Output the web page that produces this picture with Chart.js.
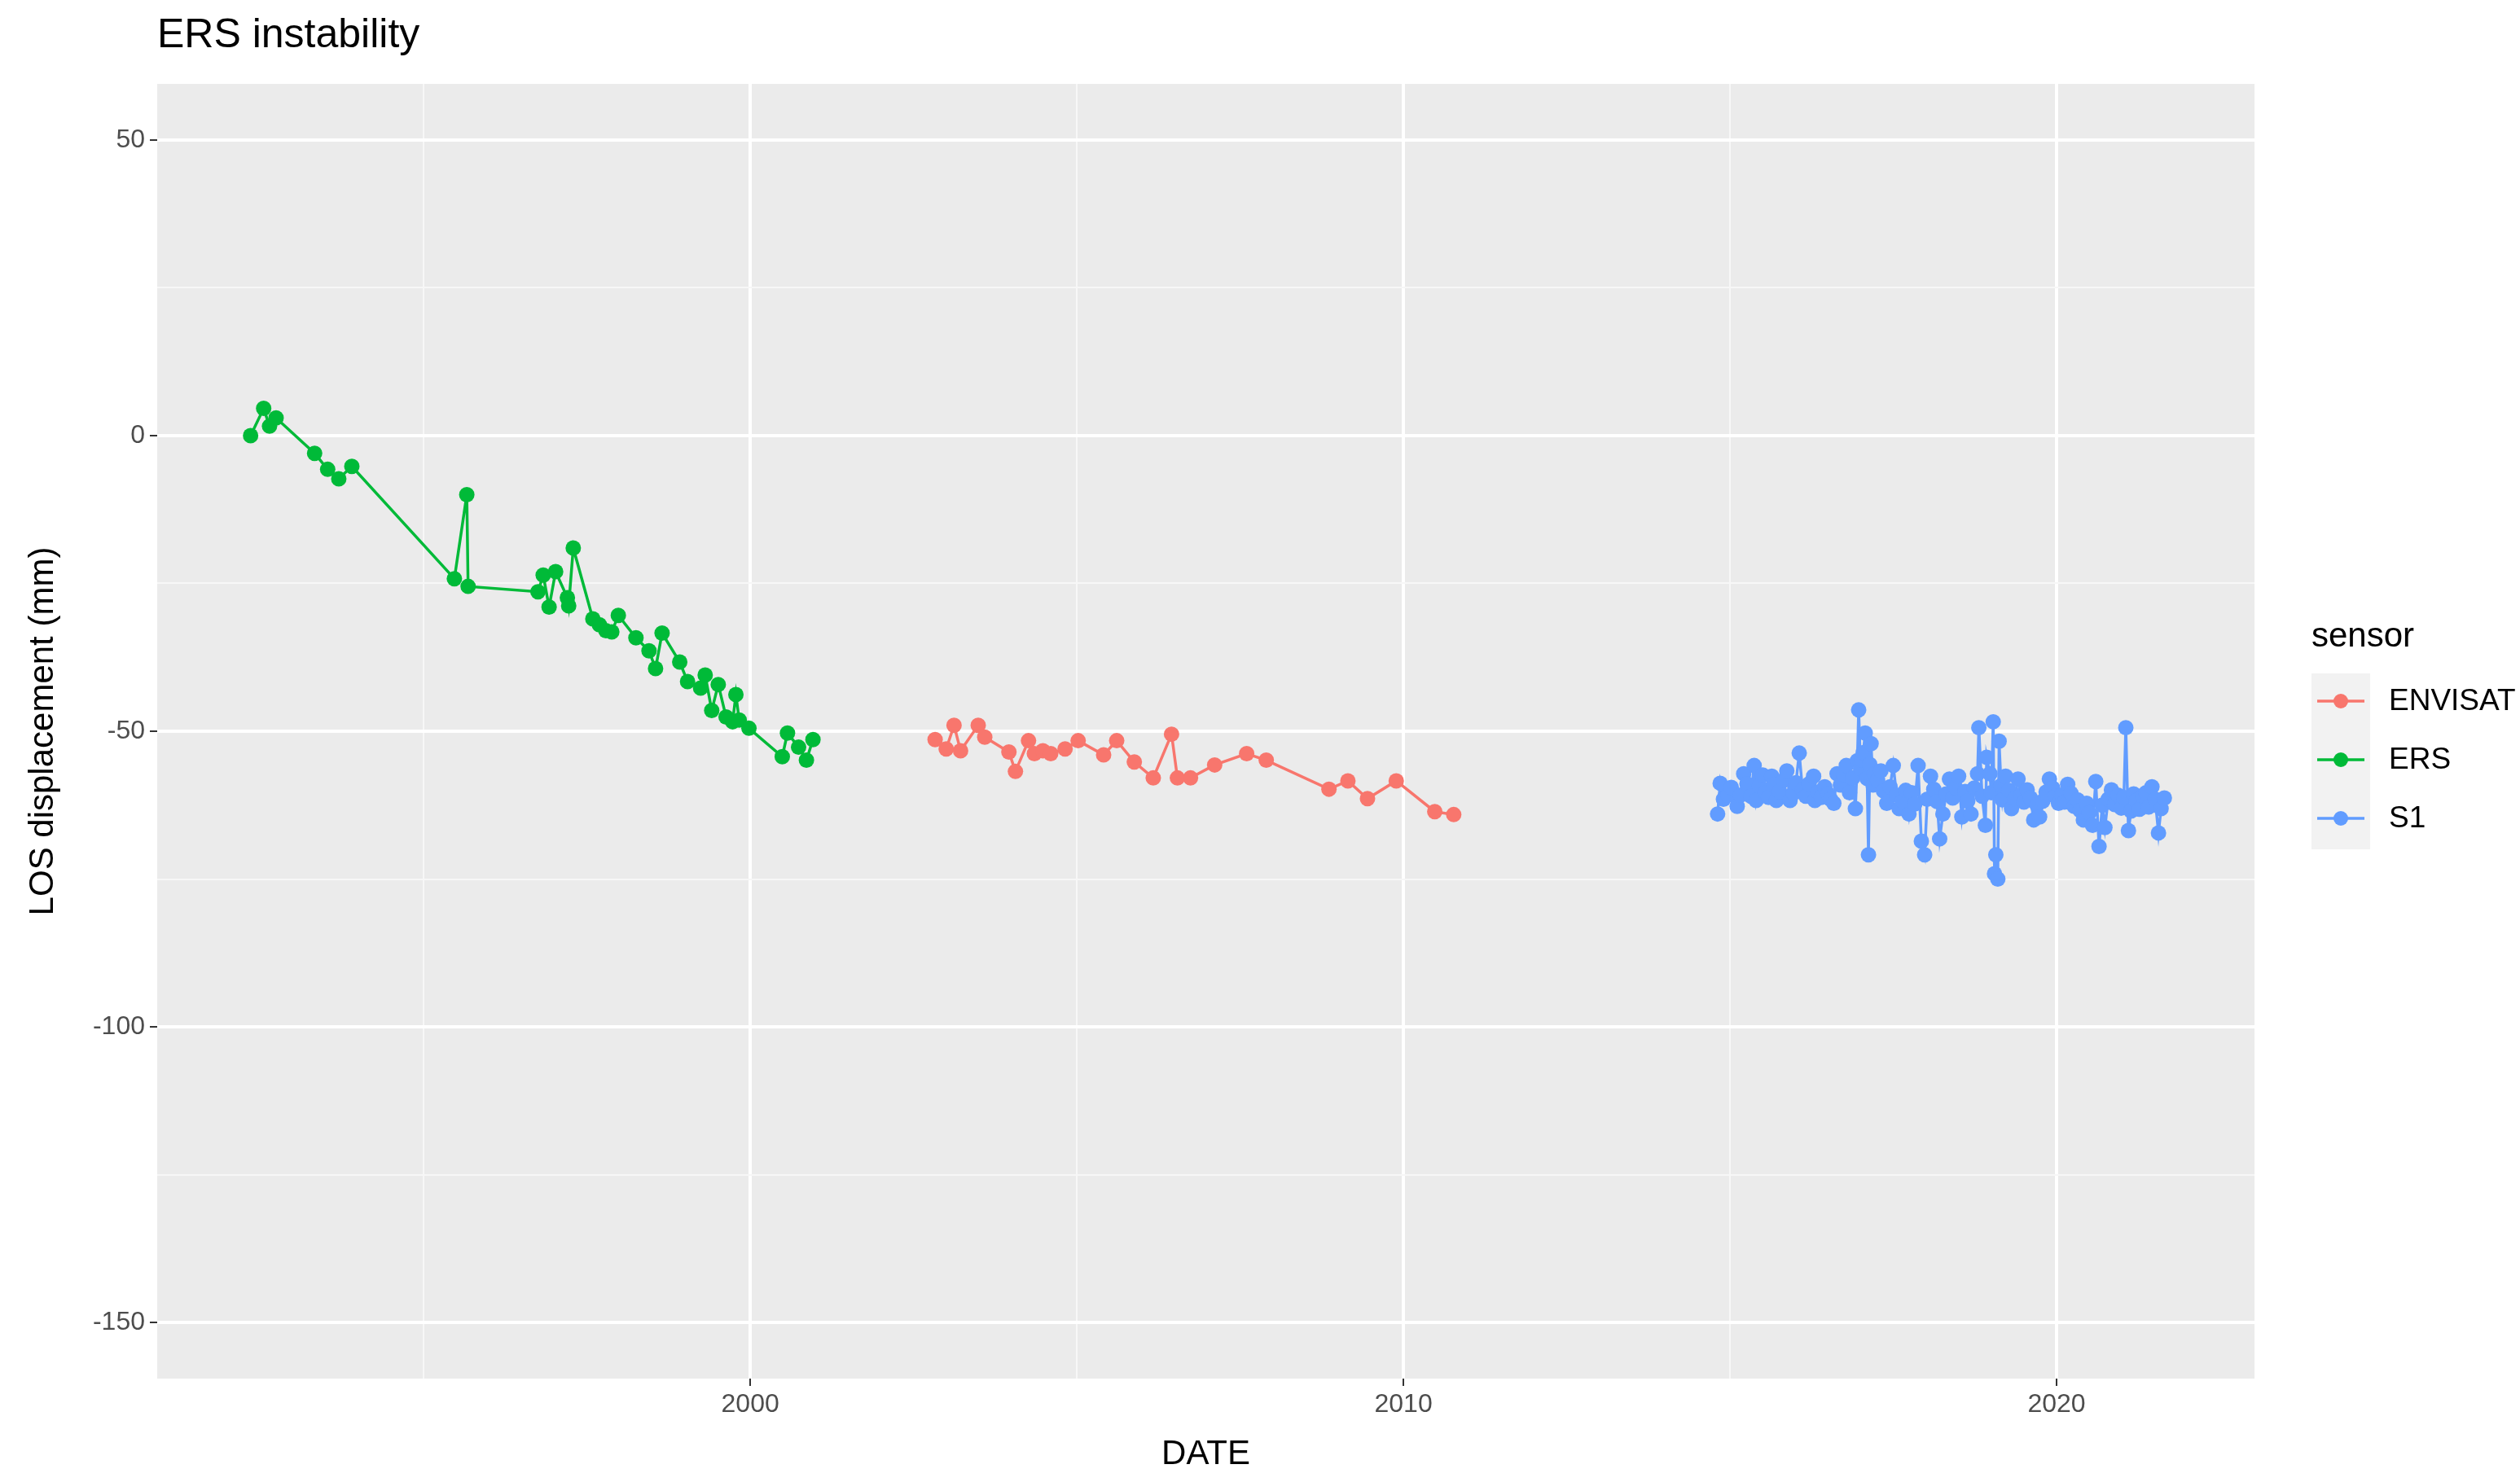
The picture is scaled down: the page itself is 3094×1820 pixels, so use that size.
<!DOCTYPE html>
<html><head><meta charset="utf-8">
<script src="https://cdn.jsdelivr.net/npm/chart.js@4/dist/chart.umd.min.js"></script>
<style>html,body{margin:0;padding:0;background:#fff}#c{display:block}</style>
</head><body>
<canvas id="c" width="3094" height="1820"></canvas>
<script>
const chartTitle = "ERS instability";
const xTitle = "DATE";
const yTitle = "LOS displacement (mm)";
const legendTitle = "sensor";
const sensors = ["ENVISAT", "ERS", "S1"];
const colors = ["#F8766D", "#00BA38", "#619CFF"];
const xTicks = [2000, 2010, 2020];
const yTicks = [-150, -100, -50, 0, 50];

const ersDates = [1992.35,1992.55,1992.64,1992.74,1993.33,1993.53,1993.70,1993.90,1995.47,1995.66,1995.68,1996.75,1996.83,1996.92,1997.02,1997.20,1997.22,1997.29,1997.59,1997.69,1997.79,1997.88,1997.98,1998.25,1998.45,1998.55,1998.65,1998.92,1999.04,1999.24,1999.31,1999.41,1999.51,1999.63,1999.73,1999.78,1999.83,1999.98,2000.49,2000.57,2000.74,2000.86,2000.96];
const ersValues = [0,4.6,1.6,3.0,-3.0,-5.7,-7.3,-5.2,-24.2,-10.0,-25.5,-26.4,-23.6,-29.0,-23.0,-27.4,-28.8,-19.0,-31.0,-32.0,-33.0,-33.2,-30.4,-34.2,-36.4,-39.4,-33.4,-38.3,-41.6,-42.7,-40.5,-46.5,-42.1,-47.6,-48.4,-43.8,-48.1,-49.5,-54.3,-50.3,-52.7,-54.9,-51.4];

const envDates = [2002.83,2003.00,2003.12,2003.22,2003.49,2003.59,2003.96,2004.06,2004.26,2004.35,2004.48,2004.60,2004.82,2005.02,2005.41,2005.61,2005.88,2006.17,2006.45,2006.54,2006.74,2007.11,2007.60,2007.90,2008.86,2009.15,2009.45,2009.89,2010.48,2010.77];
const envValues = [-51.4,-53,-49,-53.3,-49,-51,-53.5,-56.8,-51.6,-53.8,-53.3,-53.8,-53,-51.6,-54,-51.6,-55.2,-57.9,-50.5,-57.9,-57.9,-55.7,-53.8,-54.9,-59.8,-58.4,-61.4,-58.4,-63.6,-64.1];

const s1Dates = [2014.81,2014.85,2014.90,2014.97,2015.02,2015.11,2015.16,2015.21,2015.26,2015.32,2015.37,2015.40,2015.45,2015.50,2015.54,2015.59,2015.64,2015.67,2015.71,2015.76,2015.82,2015.87,2015.92,2015.97,2016.01,2016.06,2016.11,2016.16,2016.21,2016.28,2016.30,2016.35,2016.40,2016.45,2016.50,2016.54,2016.59,2016.64,2016.69,2016.74,2016.78,2016.83,2016.88,2016.92,2016.95,2016.97,2017.00,2017.02,2017.04,2017.07,2017.10,2017.12,2017.14,2017.16,2017.19,2017.21,2017.26,2017.31,2017.35,2017.40,2017.45,2017.50,2017.55,2017.59,2017.64,2017.69,2017.74,2017.78,2017.83,2017.88,2017.93,2017.98,2018.02,2018.07,2018.12,2018.17,2018.21,2018.26,2018.31,2018.36,2018.41,2018.45,2018.50,2018.55,2018.60,2018.64,2018.69,2018.74,2018.79,2018.81,2018.86,2018.91,2018.93,2018.98,2019.00,2019.03,2019.05,2019.07,2019.10,2019.12,2019.15,2019.17,2019.22,2019.27,2019.31,2019.36,2019.41,2019.46,2019.50,2019.55,2019.60,2019.65,2019.70,2019.74,2019.79,2019.84,2019.89,2019.94,2019.98,2020.03,2020.08,2020.12,2020.17,2020.22,2020.27,2020.32,2020.36,2020.41,2020.46,2020.50,2020.55,2020.60,2020.65,2020.70,2020.74,2020.79,2020.84,2020.89,2020.94,2020.99,2021.03,2021.06,2021.10,2021.14,2021.18,2021.22,2021.27,2021.32,2021.37,2021.41,2021.46,2021.51,2021.56,2021.60,2021.65];
const s1Values = [-64.0,-58.8,-61.5,-60.8,-59.5,-62.7,-60.8,-57.2,-58.9,-61.0,-55.8,-61.7,-59.2,-57.4,-60.4,-61.2,-57.6,-59.0,-61.7,-60.2,-58.3,-56.7,-61.7,-60.5,-58.7,-53.7,-59.9,-61.0,-58.9,-57.6,-61.7,-60.3,-61.2,-59.4,-60.6,-61.5,-62.2,-57.2,-59.1,-57.3,-55.8,-60.4,-57.9,-63.1,-55.0,-46.4,-56.3,-54.9,-53.6,-50.3,-58.0,-70.9,-55.6,-52.1,-59.1,-57.2,-58.3,-56.7,-60.1,-62.2,-59.4,-55.8,-60.8,-63.1,-61.8,-60.0,-64.0,-60.4,-62.3,-55.8,-68.6,-70.9,-61.5,-57.6,-59.8,-61.9,-68.2,-64.0,-60.6,-58.1,-61.3,-59.5,-57.6,-64.5,-60.2,-61.8,-64.0,-59.6,-57.2,-49.4,-61.0,-65.9,-54.4,-57.2,-60.4,-48.4,-74.1,-70.9,-75.0,-51.7,-59.2,-61.6,-57.6,-60.0,-63.1,-61.4,-58.1,-60.7,-62.0,-59.9,-61.3,-65.0,-62.5,-64.5,-61.8,-60.3,-58.1,-59.6,-61.0,-62.2,-60.8,-62.0,-59.0,-60.5,-62.7,-61.6,-63.4,-65.0,-62.2,-63.8,-65.9,-58.5,-69.5,-62.5,-66.3,-61.5,-59.9,-62.4,-60.8,-63.0,-61.2,-49.4,-66.8,-63.5,-60.6,-61.7,-63.2,-61.0,-60.4,-62.8,-59.4,-61.5,-67.2,-63.1,-61.3];

const FONT = "'Liberation Sans', Arial, sans-serif";
function pts(d, v) { return d.map((x, i) => ({x: x, y: v[i]})); }
function ds(label, d, v, col) {
  return {label, data: pts(d, v), borderColor: col, backgroundColor: col, pointBackgroundColor: col,
    pointBorderWidth: 0, pointRadius: 9.5, pointHoverRadius: 9.5, borderWidth: 3.5, showLine: true, tension: 0};
}
const isMajX = v => xTicks.includes(v);
const isMajY = v => yTicks.includes(v);

const deco = {
  id: 'deco',
  beforeDraw(ch) {
    const {ctx, chartArea: a} = ch;
    ctx.save();
    ctx.fillStyle = '#EBEBEB';
    ctx.fillRect(a.left, a.top, a.right - a.left, a.bottom - a.top);
    ctx.restore();
  },
  afterDraw(ch) {
    const {ctx, chartArea: a} = ch;
    ctx.save();
    ctx.fillStyle = '#000';
    ctx.textBaseline = 'middle';
    ctx.textAlign = 'left';
    ctx.font = `50px ${FONT}`;
    ctx.fillText(chartTitle, 193, 44);
    ctx.font = `42px ${FONT}`;
    ctx.textAlign = 'center';
    ctx.fillText(xTitle, (a.left + a.right) / 2, 1786);
    ctx.save();
    ctx.translate(53, (a.top + a.bottom) / 2);
    ctx.rotate(-Math.PI / 2);
    ctx.fillText(yTitle, 0, 0);
    ctx.restore();
    ctx.textAlign = 'left';
    ctx.font = `42px ${FONT}`;
    ctx.fillText(legendTitle, 2838, 782);
    ctx.fillStyle = '#F2F2F2';
    ctx.fillRect(2838, 827, 72, 216);
    ctx.font = `37px ${FONT}`;
    sensors.forEach((s, i) => {
      const cy = 861 + i * 72;
      ctx.strokeStyle = colors[i];
      ctx.lineWidth = 3.5;
      ctx.beginPath(); ctx.moveTo(2845, cy); ctx.lineTo(2903, cy); ctx.stroke();
      ctx.fillStyle = colors[i];
      ctx.beginPath(); ctx.arc(2874, cy, 9, 0, Math.PI * 2); ctx.fill();
      ctx.fillStyle = '#000';
      ctx.fillText(s, 2933, cy + 1);
    });
    ctx.restore();
  }
};

new Chart(document.getElementById('c'), {
  type: 'scatter',
  data: { datasets: [
    ds(sensors[0], envDates, envValues, colors[0]),
    ds(sensors[1], ersDates, ersValues, colors[1]),
    ds(sensors[2], s1Dates, s1Values, colors[2])
  ]},
  options: {
    responsive: false, animation: false, devicePixelRatio: 1,
    layout: { padding: { top: 103, right: 326, left: 0, bottom: 0 } },
    plugins: { legend: { display: false }, tooltip: { enabled: false } },
    scales: {
      x: {
        type: 'linear', min: 1990.92, max: 2023.03,
        afterBuildTicks: s => { s.ticks = [1995, 2000, 2005, 2010, 2015, 2020].map(v => ({value: v})); },
        afterFit: s => { s.height = 127; },
        border: { display: false },
        grid: { color: c => isMajX(c.tick.value) ? '#FFFFFF' : '#F7F7F7',
                lineWidth: c => isMajX(c.tick.value) ? 4 : 2,
                tickColor: c => isMajX(c.tick.value) ? '#333333' : 'rgba(0,0,0,0)',
                tickLength: 9, tickWidth: 2, drawOnChartArea: true },
        ticks: { callback: v => isMajX(v) ? String(v) : '', color: '#4D4D4D', font: { family: FONT, size: 32 }, padding: 4, maxRotation: 0, autoSkip: false }
      },
      y: {
        type: 'linear', min: -159.5, max: 59.5,
        afterBuildTicks: s => { s.ticks = [-150, -125, -100, -75, -50, -25, 0, 25, 50].map(v => ({value: v})); },
        afterFit: s => { s.width = 193; },
        border: { display: false },
        grid: { color: c => isMajY(c.tick.value) ? '#FFFFFF' : '#F7F7F7',
                lineWidth: c => isMajY(c.tick.value) ? 4 : 2,
                tickColor: c => isMajY(c.tick.value) ? '#333333' : 'rgba(0,0,0,0)',
                tickLength: 9, tickWidth: 2 },
        ticks: { callback: v => isMajY(v) ? String(v) : '', color: '#4D4D4D', font: { family: FONT, size: 32 }, padding: 6, autoSkip: false }
      }
    }
  },
  plugins: [deco]
});
</script>
</body></html>
